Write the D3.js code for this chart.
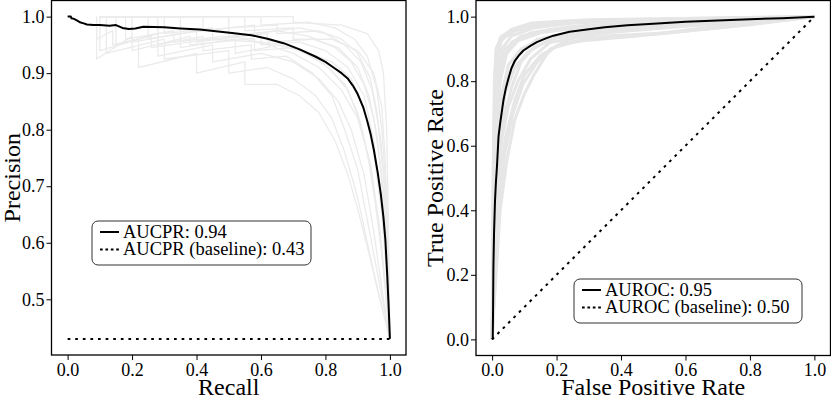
<!DOCTYPE html>
<html>
<head>
<meta charset="utf-8">
<script src="https://cdn.jsdelivr.net/npm/d3@7"></script>
<style>
body { margin: 0; background: #fff; }
</style>
</head>
<body>
<svg id="chart" width="831" height="398"></svg>
<script>
// mean PR curve [recall, precision]
var prMean = [[0,1.0],[0.01,1.0],[0.012,0.997],[0.02,0.996],[0.03,0.993],[0.038,0.99],[0.05,0.988],[0.06,0.986],[0.08,0.985],[0.1,0.985],[0.13,0.984],[0.15,0.985],[0.17,0.98],[0.19,0.978],[0.21,0.979],[0.235,0.982],[0.3,0.981],[0.35,0.979],[0.41,0.977],[0.46,0.974],[0.51,0.971],[0.57,0.967],[0.62,0.961],[0.67,0.953],[0.72,0.942],[0.77,0.929],[0.8,0.92],[0.825,0.91],[0.85,0.9],[0.87,0.89],[0.885,0.878],[0.9,0.863],[0.917,0.84],[0.93,0.815],[0.94,0.793],[0.95,0.765],[0.962,0.725],[0.972,0.685],[0.98,0.645],[0.986,0.605],[0.992,0.54],[0.996,0.49],[1.0,0.43]];
var prBaseline = 0.43;

// bootstrap PR curves (light gray)
var prBoot = [
	[[0.09,1],[0.09,0.925],[0.2,0.965],[0.2,0.94],[0.38,0.965],[0.38,0.95],[0.55,0.96],[0.62,0.95],[0.7,0.935],[0.78,0.91],[0.85,0.87],[0.9,0.82],[0.94,0.74],[0.97,0.62],[0.99,0.5],[1,0.43]],
	[[0.1,1],[0.25,1],[0.25,0.96],[0.4,0.975],[0.4,0.955],[0.6,0.97],[0.6,0.95],[0.72,0.955],[0.8,0.94],[0.87,0.91],[0.92,0.86],[0.95,0.78],[0.975,0.66],[0.99,0.55],[1,0.43]],
	[[0.1,1],[0.15,1],[0.15,0.95],[0.28,0.97],[0.28,0.93],[0.45,0.95],[0.45,0.92],[0.6,0.935],[0.7,0.92],[0.78,0.89],[0.84,0.85],[0.88,0.8],[0.92,0.72],[0.95,0.62],[0.98,0.5],[1,0.43]],
	[[0.1,1],[0.35,1],[0.35,0.97],[0.5,0.98],[0.5,0.965],[0.65,0.975],[0.75,0.965],[0.83,0.945],[0.88,0.92],[0.92,0.88],[0.95,0.82],[0.97,0.74],[0.985,0.62],[1,0.43]],
	[[0.1,1],[0.12,1],[0.12,0.935],[0.3,0.96],[0.3,0.925],[0.5,0.94],[0.5,0.9],[0.62,0.91],[0.7,0.89],[0.77,0.86],[0.82,0.82],[0.86,0.76],[0.9,0.68],[0.93,0.6],[0.96,0.52],[1,0.43]],
	[[0.1,1],[0.5,1],[0.5,0.98],[0.65,0.985],[0.65,0.97],[0.78,0.975],[0.85,0.96],[0.9,0.935],[0.94,0.89],[0.96,0.83],[0.98,0.72],[0.99,0.6],[1,0.43]],
	[[0.1,1],[0.2,1],[0.2,0.955],[0.35,0.97],[0.35,0.945],[0.52,0.96],[0.52,0.935],[0.66,0.95],[0.74,0.935],[0.81,0.91],[0.87,0.87],[0.91,0.81],[0.94,0.73],[0.965,0.63],[0.985,0.53],[1,0.43]],
	[[0.1,1],[0.3,1],[0.3,0.97],[0.45,0.98],[0.45,0.96],[0.62,0.97],[0.62,0.955],[0.76,0.96],[0.84,0.945],[0.9,0.91],[0.935,0.86],[0.96,0.79],[0.98,0.69],[0.995,0.56],[1,0.43]],
	[[0.1,1],[0.1,0.94],[0.22,0.96],[0.22,0.91],[0.4,0.935],[0.4,0.9],[0.55,0.92],[0.55,0.88],[0.65,0.88],[0.72,0.86],[0.78,0.83],[0.83,0.78],[0.87,0.72],[0.9,0.66],[0.94,0.57],[0.97,0.5],[1,0.43]],
	[[0.1,1],[0.42,1],[0.42,0.975],[0.58,0.985],[0.58,0.97],[0.72,0.98],[0.8,0.97],[0.86,0.95],[0.91,0.92],[0.945,0.87],[0.97,0.79],[0.985,0.7],[0.995,0.58],[1,0.43]],
	[[0.1,1],[0.18,1],[0.18,0.96],[0.33,0.975],[0.33,0.955],[0.48,0.965],[0.58,0.96],[0.58,0.94],[0.7,0.945],[0.79,0.92],[0.86,0.88],[0.9,0.83],[0.93,0.76],[0.955,0.67],[0.975,0.58],[1,0.43]],
	[[0.1,1],[0.6,1],[0.6,0.985],[0.75,0.99],[0.83,0.98],[0.89,0.96],[0.93,0.93],[0.96,0.87],[0.975,0.8],[0.99,0.68],[1,0.43]],
	[[0.1,1],[0.28,1],[0.28,0.95],[0.42,0.965],[0.42,0.94],[0.57,0.95],[0.57,0.925],[0.68,0.93],[0.76,0.9],[0.82,0.86],[0.86,0.8],[0.9,0.73],[0.93,0.64],[0.96,0.55],[1,0.43]],
	[[0.09,1],[0.09,0.96],[0.14,0.975],[0.14,0.95],[0.26,0.965],[0.26,0.945],[0.44,0.96],[0.6,0.955],[0.73,0.94],[0.82,0.92],[0.88,0.89],[0.92,0.84],[0.95,0.76],[0.975,0.65],[0.99,0.54],[1,0.43]],
	[[0.1,1],[0.7,1],[0.7,0.99],[0.85,0.985],[0.93,0.97],[0.965,0.94],[0.98,0.9],[0.99,0.8],[0.995,0.65],[1,0.43]],
	[[0.1,1],[0.55,1],[0.55,0.975],[0.7,0.98],[0.7,0.96],[0.82,0.96],[0.9,0.94],[0.95,0.9],[0.975,0.84],[0.985,0.75],[0.995,0.6],[1,0.43]]
];

// mean ROC curve [fpr, tpr]
var rocMean = [[0,0],[0.002,0.003],[0.003,0.1],[0.004,0.225],[0.006,0.33],[0.009,0.43],[0.012,0.49],[0.015,0.535],[0.02,0.63],[0.025,0.67],[0.03,0.705],[0.035,0.74],[0.043,0.78],[0.051,0.81],[0.06,0.84],[0.071,0.864],[0.085,0.882],[0.097,0.895],[0.12,0.91],[0.139,0.921],[0.165,0.932],[0.19,0.941],[0.24,0.953],[0.3,0.961],[0.35,0.967],[0.42,0.973],[0.5,0.978],[0.6,0.984],[0.7,0.988],[0.8,0.992],[0.9,0.995],[1,1]];
var rocBaseline = [[0,0],[1,1]];

// bootstrap ROC curves
var rocBoot = [
	[[0,0],[0.004,0.4],[0.008,0.7],[0.012,0.86],[0.025,0.92],[0.05,0.95],[0.1,0.97],[0.2,0.985],[0.4,0.99],[0.7,0.996],[1,1]],
	[[0,0],[0.006,0.35],[0.012,0.6],[0.02,0.78],[0.035,0.87],[0.06,0.92],[0.12,0.95],[0.25,0.97],[0.5,0.985],[0.8,0.995],[1,1]],
	[[0,0],[0.008,0.3],[0.015,0.55],[0.03,0.72],[0.05,0.82],[0.08,0.88],[0.14,0.93],[0.3,0.955],[0.55,0.975],[0.8,0.99],[1,1]],
	[[0,0],[0.01,0.25],[0.02,0.45],[0.04,0.62],[0.07,0.74],[0.1,0.82],[0.15,0.88],[0.22,0.92],[0.45,0.94],[0.7,0.97],[1,1]],
	[[0,0],[0.005,0.45],[0.01,0.75],[0.018,0.88],[0.03,0.93],[0.07,0.955],[0.15,0.975],[0.3,0.985],[0.6,0.993],[1,1]],
	[[0,0],[0.012,0.2],[0.025,0.4],[0.045,0.55],[0.07,0.68],[0.1,0.76],[0.13,0.82],[0.18,0.9],[0.3,0.935],[0.5,0.945],[0.75,0.97],[1,1]],
	[[0,0],[0.007,0.38],[0.014,0.62],[0.025,0.8],[0.045,0.885],[0.08,0.925],[0.15,0.95],[0.3,0.97],[0.6,0.985],[1,1]],
	[[0,0],[0.009,0.28],[0.018,0.5],[0.035,0.68],[0.06,0.78],[0.09,0.86],[0.13,0.905],[0.2,0.935],[0.4,0.955],[0.7,0.98],[1,1]],
	[[0,0],[0.003,0.5],[0.007,0.8],[0.012,0.9],[0.03,0.94],[0.08,0.965],[0.2,0.98],[0.5,0.99],[1,1]],
	[[0,0],[0.01,0.3],[0.02,0.5],[0.03,0.62],[0.05,0.72],[0.08,0.8],[0.12,0.87],[0.18,0.92],[0.35,0.95],[0.6,0.97],[1,1]],
	[[0,0],[0.006,0.42],[0.011,0.68],[0.02,0.84],[0.04,0.9],[0.09,0.94],[0.18,0.96],[0.35,0.975],[0.7,0.99],[1,1]],
	[[0,0],[0.008,0.33],[0.016,0.58],[0.028,0.75],[0.05,0.85],[0.09,0.9],[0.16,0.935],[0.3,0.96],[0.55,0.98],[1,1]],
	[[0,0],[0.004,0.55],[0.009,0.82],[0.015,0.9],[0.025,0.935],[0.06,0.96],[0.12,0.98],[0.3,0.99],[1,1]],
	[[0,0],[0.011,0.22],[0.022,0.42],[0.04,0.58],[0.065,0.7],[0.095,0.79],[0.14,0.86],[0.2,0.91],[0.35,0.94],[0.55,0.95],[0.8,0.975],[1,1]],
	[[0,0],[0.005,0.3],[0.01,0.6],[0.016,0.8],[0.03,0.9],[0.06,0.94],[0.13,0.965],[0.25,0.98],[0.5,0.99],[1,1]],
	[[0,0],[0.009,0.35],[0.02,0.6],[0.04,0.76],[0.07,0.84],[0.11,0.89],[0.18,0.93],[0.3,0.95],[0.5,0.965],[0.8,0.985],[1,1]]
];

var prXTicks = [0, 0.2, 0.4, 0.6, 0.8, 1.0];
var prYTicks = [0.5, 0.6, 0.7, 0.8, 0.9, 1.0];
var rocTicks = [0, 0.2, 0.4, 0.6, 0.8, 1.0];

var prLegend = ["AUCPR: 0.94", "AUCPR (baseline): 0.43"];
var rocLegend = ["AUROC: 0.95", "AUROC (baseline): 0.50"];

var serif = "'Liberation Serif', 'Times New Roman', serif";
var svg = d3.select("#chart").attr("font-family", serif);
var fmt = d3.format(".1f");

function drawPanel(opt) {
	var g = svg.append("g");
	var x = opt.x, y = opt.y;
	var x0 = x.range()[0], x1 = x.range()[1], y0 = y.range()[0], y1 = y.range()[1];

	g.append("clipPath").attr("id", opt.id + "-clip")
		.append("rect").attr("x", x0).attr("y", y1).attr("width", x1 - x0).attr("height", y0 - y1);

	var line = d3.line().x(function(d){ return x(d[0]); }).y(function(d){ return y(d[1]); });
	var plot = g.append("g").attr("clip-path", "url(#" + opt.id + "-clip)");

	//gray bootstrap curves
	plot.selectAll(".boot").data(opt.boot).enter().append("path")
		.attr("d", line)
		.style("fill", "none")
		.style("stroke", opt.bootColor)
		.style("stroke-width", opt.bootWidth)
		.style("stroke-linejoin", "round");

	//baseline
	plot.append("path").datum(opt.base).attr("d", line)
		.style("fill", "none").style("stroke", "#000")
		.style("stroke-width", 2).style("stroke-dasharray", "2.7,4.9");

	//mean curve
	plot.append("path").datum(opt.mean).attr("d", line)
		.style("fill", "none").style("stroke", "#000")
		.style("stroke-width", 2).style("stroke-linejoin", "round");

	//axes
	g.append("g").attr("transform", "translate(0," + y0 + ")")
		.call(d3.axisBottom(x).tickValues(opt.xTicks).tickFormat(fmt).tickSize(5).tickPadding(3))
		.call(styleAxis);
	g.append("g").attr("transform", "translate(" + x0 + ",0)")
		.call(d3.axisLeft(y).tickValues(opt.yTicks).tickFormat(fmt).tickSize(5).tickPadding(2))
		.call(styleAxis);

	//frame
	g.append("rect").attr("x", x0).attr("y", y1).attr("width", x1 - x0).attr("height", y0 - y1)
		.style("fill", "none").style("stroke", "#000").style("stroke-width", 1.3);

	//axis labels
	g.append("text").attr("x", (x0 + x1) / 2).attr("y", 395)
		.attr("text-anchor", "middle").attr("font-size", 24).text(opt.xLabel);
	g.append("text").attr("transform", "translate(" + opt.yLabelX + "," + (y0 + y1) / 2 + ") rotate(-90)")
		.attr("text-anchor", "middle").attr("font-size", 24).text(opt.yLabel);

	//legend
	var lg = opt.legend;
	g.append("rect").attr("x", lg.x).attr("y", lg.y).attr("width", lg.w).attr("height", lg.h)
		.attr("rx", 6).attr("ry", 6)
		.style("fill", "#fff").style("stroke", "#333").style("stroke-width", 1);
	lg.labels.forEach(function(t, i){
		var by = lg.y + 16.5 + i * 17.5;
		g.append("line").attr("x1", lg.x + 8).attr("x2", lg.x + 27)
			.attr("y1", by - 5.5).attr("y2", by - 5.5)
			.style("stroke", "#000").style("stroke-width", 2)
			.style("stroke-dasharray", i == 1 ? "2.7,2.7" : null);
		g.append("text").attr("x", lg.x + 31).attr("y", by).attr("font-size", 18.5).text(t);
	});
}

function styleAxis(sel) {
	sel.attr("font-family", serif).attr("font-size", 18);
	sel.select(".domain").remove();
	sel.selectAll(".tick line").style("stroke", "#000").style("stroke-width", 1);
	sel.selectAll(".tick text").style("fill", "#000");
}

drawPanel({
	id: "pr",
	x: d3.scaleLinear().domain([-0.05, 1.05]).range([51.5, 406]),
	y: d3.scaleLinear().domain([0.4015, 1.0285]).range([355, 0.5]),
	boot: prBoot,
	bootColor: "#ebebeb",
	bootWidth: 1.3,
	mean: prMean,
	base: [[0, prBaseline], [1, prBaseline]],
	xTicks: prXTicks,
	yTicks: prYTicks,
	xLabel: "Recall",
	yLabel: "Precision",
	yLabelX: 20,
	legend: { x: 92, y: 221, w: 219, h: 44, labels: prLegend }
});

drawPanel({
	id: "roc",
	x: d3.scaleLinear().domain([-0.05, 1.05]).range([476, 830.5]),
	y: d3.scaleLinear().domain([-0.05, 1.05]).range([355.5, 0.5]),
	boot: rocBoot,
	bootColor: "#e6e6e6",
	bootWidth: 3,
	mean: rocMean,
	base: rocBaseline,
	xTicks: rocTicks,
	yTicks: rocTicks,
	xLabel: "False Positive Rate",
	yLabel: "True Positive Rate",
	yLabelX: 443,
	legend: { x: 574, y: 279, w: 228, h: 44, labels: rocLegend }
});
</script>
</body>
</html>
